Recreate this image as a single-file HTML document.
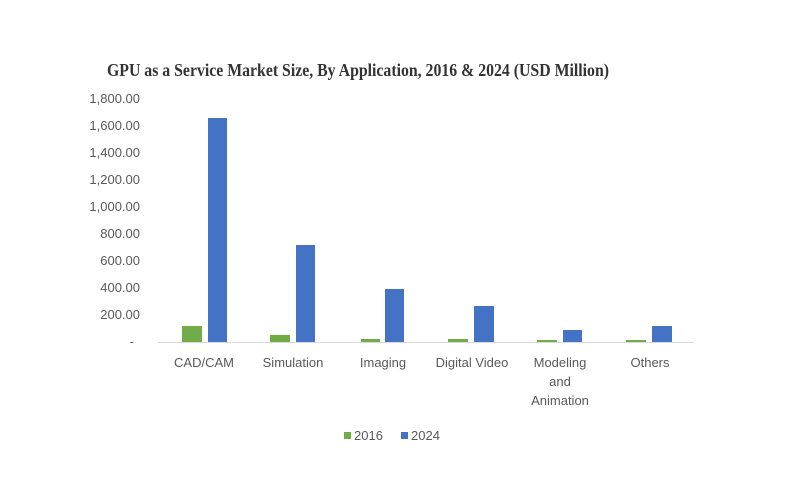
<!DOCTYPE html>
<html><head><meta charset="utf-8"><style>
html,body{margin:0;padding:0;background:#fff;}
svg{display:block;}
text{font-family:"Liberation Sans",sans-serif;fill:#595959;}
</style></head><body>
<svg width="800" height="499" viewBox="0 0 800 499" xmlns="http://www.w3.org/2000/svg">
<rect width="800" height="499" fill="#fff"/>
<text x="107" y="76" textLength="502" lengthAdjust="spacingAndGlyphs" style="font-family:'Liberation Serif',serif;font-weight:bold;font-size:18px;fill:#333">GPU as a Service Market Size, By Application, 2016 &amp; 2024 (USD Million)</text>
<g font-size="13" text-anchor="end">
<text x="140" y="103">1,800.00</text>
<text x="140" y="130">1,600.00</text>
<text x="140" y="157">1,400.00</text>
<text x="140" y="184">1,200.00</text>
<text x="140" y="211">1,000.00</text>
<text x="140" y="238">800.00</text>
<text x="140" y="265">600.00</text>
<text x="140" y="292">400.00</text>
<text x="140" y="319">200.00</text>
<text x="134" y="346">-</text>
</g>
<line x1="158" y1="342.5" x2="694" y2="342.5" stroke="#d9d9d9" stroke-width="1"/>
<g fill="#70ad47">
<rect x="182" y="326" width="20" height="16"/>
<rect x="270" y="335" width="20" height="7"/>
<rect x="361" y="339" width="19" height="3"/>
<rect x="448" y="339" width="20" height="3"/>
<rect x="537" y="340" width="20" height="2"/>
<rect x="626" y="340" width="20" height="2"/>
</g>
<g fill="#4472c4">
<rect x="208" y="118" width="19" height="224"/>
<rect x="296" y="245" width="19" height="97"/>
<rect x="385" y="289" width="19" height="53"/>
<rect x="474" y="306" width="20" height="36"/>
<rect x="563" y="330" width="19" height="12"/>
<rect x="652" y="326" width="20" height="16"/>
</g>
<g font-size="13" text-anchor="middle">
<text x="204" y="367">CAD/CAM</text>
<text x="293" y="367">Simulation</text>
<text x="383" y="367">Imaging</text>
<text x="472" y="367">Digital Video</text>
<text x="560" y="367">Modeling</text>
<text x="560" y="386">and</text>
<text x="560" y="405">Animation</text>
<text x="650" y="367">Others</text>
</g>
<rect x="344" y="432" width="7" height="7" fill="#70ad47"/>
<text x="354" y="440" font-size="13">2016</text>
<rect x="401" y="432" width="7" height="7" fill="#4472c4"/>
<text x="411" y="440" font-size="13">2024</text>
</svg>
</body></html>
